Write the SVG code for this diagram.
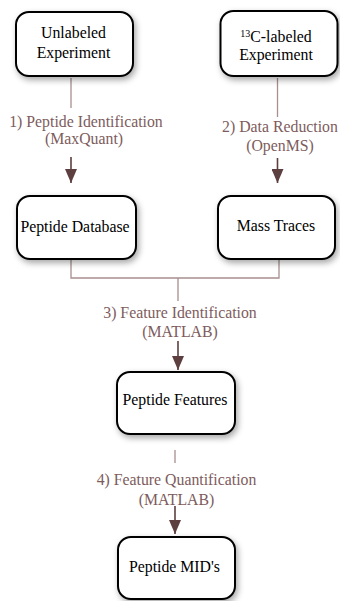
<svg xmlns="http://www.w3.org/2000/svg" width="340" height="601" viewBox="0 0 340 601">
  <style>
    .box { fill: #ffffff; stroke: #000000; stroke-width: 2; filter: url(#shadow); }
    .ntext { font-size: 15.8px; fill: #000000; text-anchor: middle; }
    .sup { font-size: 10px; }
    .lbl { font-size: 15.8px; fill: #7d5c5c; text-anchor: middle; }
    .wire { fill: none; stroke: #a88e8e; stroke-width: 1.3; }
    .arrow { fill: none; stroke: #5e3f3f; stroke-width: 1.6; marker-end: url(#head); }
  </style>
  <defs>
    <filter id="shadow" x="-20%" y="-20%" width="140%" height="150%">
      <feDropShadow dx="2" dy="3" stdDeviation="3" flood-color="#000000" flood-opacity="0.35"/>
    </filter>
    <!-- arrowhead drawn along +x so orient="auto" points it down the line -->
    <marker id="head" viewBox="0 0 14 12" refX="14" refY="6" markerWidth="14" markerHeight="12" markerUnits="userSpaceOnUse" orient="auto">
      <path d="M0,0 L14,6 L0,12 Z" fill="#5e3f3f"/>
    </marker>
  </defs>

  <g font-family="'Liberation Serif', 'DejaVu Serif', serif">
  <!-- connectors -->
  <g id="connectors">
    <!-- step 1 -->
    <line class="wire" x1="71" y1="78" x2="71" y2="108"/>
    <path class="arrow" d="M71,157 V183"/>
    <!-- step 2 -->
    <line class="wire" x1="277.5" y1="78" x2="277.5" y2="117"/>
    <path class="arrow" d="M277.5,158 V183"/>
    <!-- step 3: merge of both branches -->
    <path class="wire" d="M71,260 V278 H279 V260 M178,278 V301"/>
    <path class="arrow" d="M178,341 V370"/>
    <!-- step 4 -->
    <line class="wire" x1="175" y1="450" x2="175" y2="463"/>
    <path class="arrow" d="M175,506 V534"/>

    <text class="lbl" x="86" y="127">1) Peptide Identification</text>
    <text class="lbl" x="84" y="144">(MaxQuant)</text>
    <text class="lbl" x="280" y="132">2) Data Reduction</text>
    <text class="lbl" x="280" y="151">(OpenMS)</text>
    <text class="lbl" x="180" y="318">3) Feature Identification</text>
    <text class="lbl" x="180" y="337">(MATLAB)</text>
    <text class="lbl" x="176.5" y="485">4) Feature Quantification</text>
    <text class="lbl" x="176.5" y="505">(MATLAB)</text>
  </g>

  <g id="unlabeled-experiment">
    <rect class="box" x="16" y="12" width="117" height="64" rx="13"/>
    <text class="ntext" x="73.5" y="37.5">Unlabeled</text>
    <text class="ntext" x="73.5" y="57.5">Experiment</text>
  </g>

  <g id="labeled-experiment">
    <rect class="box" x="220.5" y="11" width="117" height="65" rx="13"/>
    <text class="ntext" x="276" y="41.5"><tspan class="sup" dy="-5">13</tspan><tspan dy="5">C-labeled</tspan></text>
    <text class="ntext" x="276" y="60">Experiment</text>
  </g>

  <g id="peptide-database">
    <rect class="box" x="17" y="196" width="119" height="63" rx="13"/>
    <text class="ntext" x="75" y="232">Peptide Database</text>
  </g>

  <g id="mass-traces">
    <rect class="box" x="218" y="196" width="117" height="63" rx="13"/>
    <text class="ntext" x="276" y="230.5">Mass Traces</text>
  </g>

  <g id="peptide-features">
    <rect class="box" x="117" y="372" width="118" height="62" rx="13"/>
    <text class="ntext" x="175" y="405">Peptide Features</text>
  </g>

  <g id="peptide-mids">
    <rect class="box" x="118" y="537" width="117" height="62" rx="13"/>
    <text class="ntext" x="174.5" y="571.5">Peptide MID's</text>
  </g>
  </g>
</svg>
